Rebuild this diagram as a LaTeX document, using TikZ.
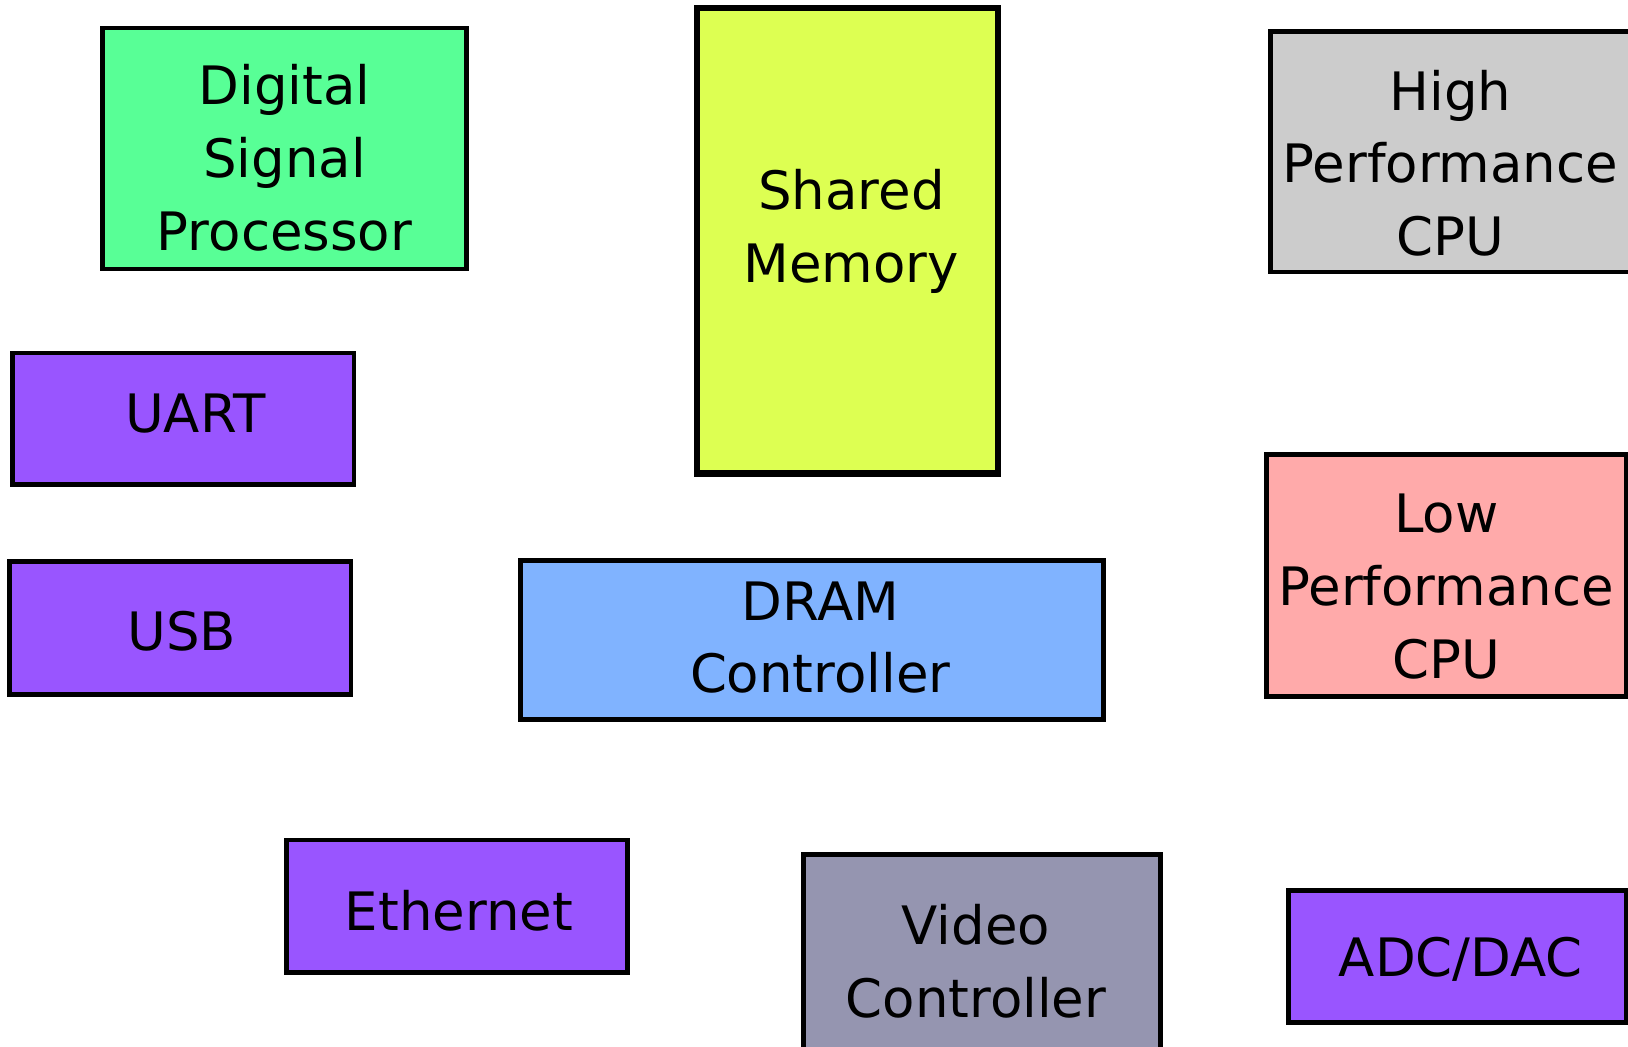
\documentclass[tikz,border=0pt]{standalone}
\usepackage{fontspec}
\setmainfont{DejaVu Sans}
\definecolor{dspgreen}{RGB}{88,255,150}
\definecolor{memyellow}{RGB}{221,255,82}
\definecolor{hpgray}{RGB}{204,204,204}
\definecolor{periph}{RGB}{153,85,255}
\definecolor{dramblue}{RGB}{128,179,255}
\definecolor{lppink}{RGB}{255,170,170}
\definecolor{vidgray}{RGB}{149,149,176}
\tikzset{
  box/.style={draw=black, line width=2.3pt, inner sep=0pt, rectangle},
  txt/.style={inner sep=0pt, align=center, font=\fontsize{25.5}{35}\selectfont, text=black}
}
\begin{document}
\begin{tikzpicture}[x=0.5pt, y=-0.5pt]
\useasboundingbox (0,0) rectangle (1568,1008);
\clip (0,0) rectangle (1568,1008);
\fill[white] (0,0) rectangle (1568,1008);
% boxes
\node[box, fill=dspgreen, minimum width=175pt, minimum height=116pt] (dspbox) at (274,143) {};
\node[box, fill=memyellow, line width=3pt, minimum width=145pt, minimum height=224pt] (membox) at (816,232) {};
\node[box, fill=hpgray, minimum width=175pt, minimum height=116pt] (hpbox) at (1399,146) {};
\node[box, fill=periph, minimum width=164.5pt, minimum height=63.5pt] (uartbox) at (176.5,403.5) {};
\node[box, fill=periph, minimum width=164.5pt, minimum height=64pt] (usbbox) at (173.5,605) {};
\node[box, fill=dramblue, minimum width=281pt, minimum height=76.5pt] (drambox) at (782,616.5) {};
\node[box, fill=lppink, minimum width=173pt, minimum height=116.5pt] (lpbox) at (1393,554.5) {};
\node[box, fill=periph, minimum width=164pt, minimum height=64pt] (ethbox) at (440,873) {};
\node[box, fill=vidgray, minimum width=172pt, minimum height=103.5pt] (vidbox) at (946,926.5) {};
\node[box, fill=periph, minimum width=162.5pt, minimum height=63.5pt] (adcbox) at (1403.5,921.5) {};
% labels
\node[txt] (dsp) at (274,152) {Digital\\Signal\\Processor};
\node[txt] (mem) at (820,223) {Shared\\Memory};
\node[txt] (hp) at (1397,157) {High\\Performance\\CPU};
\node[txt] (uart) at (188,398) {UART};
\node[txt] (usb) at (175,608) {USB};
\node[txt] (dram) at (790,614) {DRAM\\Controller};
\node[txt] (lp) at (1393,565) {Low\\Performance\\CPU};
\node[txt] (eth) at (442,877) {Ethernet};
\node[txt] (vid) at (940,926) {Video\\Controller};
\node[txt] (adc) at (1407,924) {ADC/DAC};
\end{tikzpicture}
\end{document}
